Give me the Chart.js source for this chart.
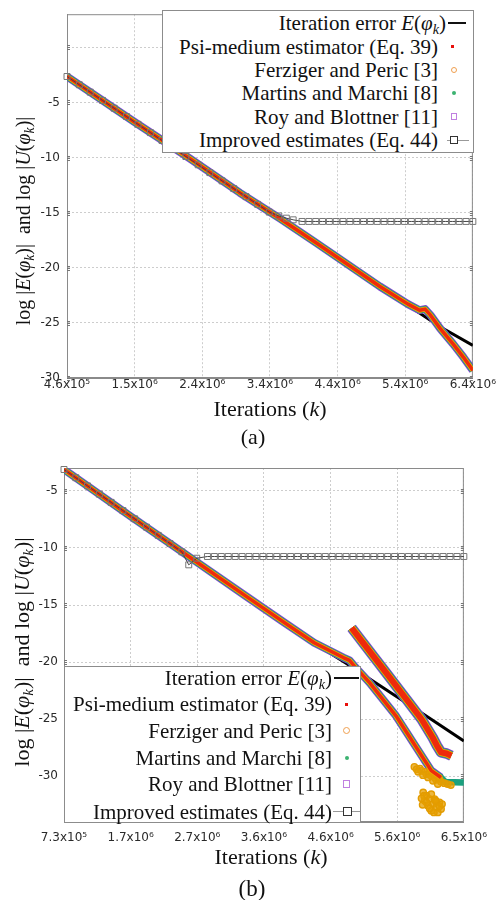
<!DOCTYPE html>
<html>
<head>
<meta charset="utf-8">
<script src="https://cdn.jsdelivr.net/npm/chart.js@4.4.0/dist/chart.umd.min.js"></script>
<style>
  body { margin: 0; background: #fff; }
  #page { position: relative; width: 496px; height: 900px; overflow: hidden;
          font-family: 'Liberation Serif', 'Times New Roman', serif; color: #111; }
  canvas { position: absolute; left: 0; }
  .c { position: absolute; white-space: nowrap; transform: translate(-50%, -50%); }
  .rot { transform: translate(-50%, -50%) rotate(-90deg); }
  .lg { position: absolute; background: #fff; border: 1px solid #8c8c8c; box-sizing: border-box; }
  .row { position: absolute; white-space: nowrap; font-size: 21px; line-height: 22px; }
  .s { position: absolute; box-sizing: border-box; }
  sub { font-size: 68%; vertical-align: -0.3em; line-height: 0; }
</style>
</head>
<body>
<div id="page">
  <canvas id="chartA" width="496" height="425" style="top:0"></canvas>
  <canvas id="chartB" width="496" height="455" style="top:445px"></canvas>

  <!-- legend (a) -->
  <div class="lg" style="left:162px;top:10px;width:312px;height:143px"></div>
  <div class="row" style="right:50px;top:12px">Iteration error <i>E</i>(<i>φ<sub>k</sub></i>)</div>
  <div class="row" style="right:58px;top:36px">Psi-medium estimator (Eq. 39)</div>
  <div class="row" style="right:58px;top:59px">Ferziger and Peric [3]</div>
  <div class="row" style="right:58px;top:82px">Martins and Marchi [8]</div>
  <div class="row" style="right:58px;top:106px">Roy and Blottner [11]</div>
  <div class="row" style="right:58px;top:129px">Improved estimates (Eq. 44)</div>
  <div class="s" style="left:448px;top:22px;width:18px;height:2px;background:#111"></div>
  <div class="s" style="left:451px;top:45px;width:3px;height:3px;background:#e8100b"></div>
  <div class="s" style="left:451px;top:67px;width:6px;height:6px;border:1px solid #f0a050;border-radius:50%"></div>
  <div class="s" style="left:452px;top:91px;width:4px;height:4px;background:#3cb371;border-radius:50%"></div>
  <div class="s" style="left:451px;top:113px;width:6px;height:7px;border:1px solid #c080e0"></div>
  <div class="s" style="left:447px;top:140px;width:22px;height:1px;background:#999"></div>
  <div class="s" style="left:450px;top:136px;width:8px;height:8px;border:1px solid #333;background:#fff"></div>

  <!-- legend (b) -->
  <div class="lg" style="left:64px;top:666px;width:297px;height:157px"></div>
  <div class="row" style="right:164px;top:667px">Iteration error <i>E</i>(<i>φ<sub>k</sub></i>)</div>
  <div class="row" style="right:164px;top:693px">Psi-medium estimator (Eq. 39)</div>
  <div class="row" style="right:164px;top:720px">Ferziger and Peric [3]</div>
  <div class="row" style="right:164px;top:747px">Martins and Marchi [8]</div>
  <div class="row" style="right:164px;top:773px">Roy and Blottner [11]</div>
  <div class="row" style="right:164px;top:801px">Improved estimates (Eq. 44)</div>
  <div class="s" style="left:334px;top:677px;width:25px;height:2px;background:#111"></div>
  <div class="s" style="left:345px;top:703px;width:3px;height:3px;background:#e8100b"></div>
  <div class="s" style="left:343px;top:727px;width:7px;height:7px;border:1px solid #f0a050;border-radius:50%"></div>
  <div class="s" style="left:345px;top:756px;width:4px;height:4px;background:#3cb371;border-radius:50%"></div>
  <div class="s" style="left:343px;top:780px;width:7px;height:8px;border:1px solid #c080e0"></div>
  <div class="s" style="left:333px;top:811px;width:27px;height:1px;background:#999"></div>
  <div class="s" style="left:343px;top:807px;width:9px;height:9px;border:1px solid #333;background:#fff"></div>

  <!-- axis titles and captions -->
  <div class="c rot" style="left:23px;top:221px;font-size:20px">log |<i>E</i>(<i>φ<sub>k</sub></i>)|&nbsp; and log |<i>U</i>(<i>φ<sub>k</sub></i>)|</div>
  <div class="c" style="left:270px;top:409px;font-size:22px">Iterations (<i>k</i>)</div>
  <div class="c" style="left:253px;top:437px;font-size:22px">(a)</div>
  <div class="c rot" style="left:22px;top:652px;font-size:22px">log |<i>E</i>(<i>φ<sub>k</sub></i>)|&nbsp; and log |<i>U</i>(<i>φ<sub>k</sub></i>)|</div>
  <div class="c" style="left:271px;top:857px;font-size:22px">Iterations (<i>k</i>)</div>
  <div class="c" style="left:252px;top:889px;font-size:23px">(b)</div>
</div>

<script>
// ---------- chart (a) ----------
const xTicksA = [460000, 1450000, 2440000, 3430000, 4420000, 5410000, 6400000];
const xLabelsA = ['4.6x10⁵', '1.5x10⁶', '2.4x10⁶', '3.4x10⁶', '4.4x10⁶', '5.4x10⁶', '6.4x10⁶'];
const yTicksA = [-30, -25, -20, -15, -10, -5, 0];
const yLabelsA = ['-30', '-25', '-20', '-15', '-10', '-5', ''];

// iteration error E
const errAx = [460000, 1440000, 2260000, 2990000, 3580000, 4110000, 5040000, 5520000, 5920000, 6400000];
const errAy = [-2.65, -6.75, -10.1, -13.2, -15.55, -17.75, -21.7, -23.7, -25.35, -27.05];
// the four estimators overlap on one band
const estAx = [460000, 1440000, 2260000, 2990000, 3580000, 4110000, 5040000, 5450000, 5620000, 5700000, 5780000, 5920000, 6110000, 6260000, 6400000];
const estAy = [-2.65, -6.75, -10.1, -13.2, -15.55, -17.75, -21.7, -23.3, -23.85, -23.75, -24.3, -25.5, -26.9, -28.1, -29.3];
// improved estimates (squares)
const impAx = [460000, 640000, 800000, 980000, 1150000, 1330000, 1500000, 1680000, 1850000, 2030000, 2200000,
  2380000, 2550000, 2730000, 2900000, 3080000, 3250000, 3420000, 3560000, 3670000, 3770000,
  3900000, 4000000, 4100000, 4200000, 4300000, 4400000, 4500000, 4600000, 4700000, 4800000, 4900000,
  5000000, 5100000, 5200000, 5300000, 5400000, 5500000, 5600000, 5700000, 5800000, 5900000,
  6000000, 6100000, 6200000, 6300000, 6400000];
const impAy = [-2.65, -3.40, -4.07, -4.82, -5.53, -6.28, -6.99, -7.74, -8.45, -9.20, -9.91,
  -10.66, -11.37, -12.12, -12.82, -13.55, -14.25, -14.95, -15.3, -15.5, -15.65,
  -15.8, -15.8, -15.8, -15.8, -15.8, -15.8, -15.8, -15.8, -15.8, -15.8, -15.8,
  -15.8, -15.8, -15.8, -15.8, -15.8, -15.8, -15.8, -15.8, -15.8, -15.8,
  -15.8, -15.8, -15.8, -15.8, -15.8];

// ---------- chart (b) ----------
const xTicksB = [730000, 1691667, 2653333, 3615000, 4576667, 5538333, 6500000];
const xLabelsB = ['7.3x10⁵', '1.7x10⁶', '2.7x10⁶', '3.6x10⁶', '4.6x10⁶', '5.6x10⁶', '6.5x10⁶'];
const yTicksB = [-30, -25, -20, -15, -10, -5];
const yLabelsB = ['-30', '-25', '-20', '-15', '-10', '-5'];

const errBx = [730000, 1700000, 2660000, 3350000, 3900000, 4340000, 4800000, 5000000, 5500000, 5990000, 6500000];
const errBy = [-3.13, -7.27, -11.3, -14.2, -16.5, -18.35, -20.1, -20.9, -22.9, -24.85, -26.9];
// common trunk then lower branch (A)
const trunkBx = [730000, 1700000, 2660000, 3350000, 3900000, 4340000, 4760000, 4850000];
const trunkBy = [-3.13, -7.27, -11.3, -14.2, -16.5, -18.3, -19.6, -19.85];
const branchAx = [4920000, 5140000, 5520000, 6030000, 6170000];
const branchAy = [-20.35, -21.8, -24.7, -29.5, -30.1];
const martTailBx = [6230000, 6500000];
const martTailBy = [-30.5, -30.55];
// upper branch (B)
const branchBx = [4880000, 5400000, 5890000, 6050000, 6110000, 6170000, 6250000, 6320000];
const branchBy = [-17.0, -21.1, -25.0, -26.6, -27.3, -27.9, -28.0, -28.2];
// scattered Ferziger and Peric points
const ferzScatBx = [5786000, 5819000, 5866000, 5889000, 5936000, 5960000, 6007000, 6030000, 6077000, 6101000,
  6148000, 6171000, 6218000, 6265000, 6312000, 6054000, 6124000, 5983000, 5840000, 5910000,
  5913000, 5960000, 5936000, 6007000, 6054000, 5983000, 6101000, 6148000, 6171000, 6030000, 6124000, 6077000,
  5926000, 5889000, 6030000, 6101000, 6007000, 6148000, 6068000, 5960000, 6185000, 5905000, 6090000];
const ferzScatBy = [-29.17, -29.37, -29.32, -29.52, -29.61, -29.81, -29.75, -29.96, -30.10, -30.30,
  -30.25, -30.48, -30.60, -30.68, -30.77, -30.39, -30.68, -30.10, -29.6, -29.9,
  -31.41, -31.70, -32.14, -31.99, -32.43, -32.57, -32.72, -32.28, -32.86, -33.01, -33.16, -31.99,
  -31.70, -31.93, -31.56, -32.22, -32.81, -32.63, -33.16, -32.28, -32.43, -32.5, -32.1];
const impBx = [730000, 900000, 1070000, 1240000, 1410000, 1580000, 1750000, 1920000, 2090000, 2260000, 2430000, 2530000, 2645000,
  2800000, 2900000, 3000000, 3100000, 3200000, 3300000, 3400000, 3500000, 3600000, 3700000,
  3800000, 3900000, 4000000, 4100000, 4200000, 4300000, 4400000, 4500000, 4600000, 4700000,
  4800000, 4900000, 5000000, 5100000, 5200000, 5300000, 5400000, 5500000, 5600000, 5700000,
  5800000, 5900000, 6000000, 6100000, 6200000, 6300000, 6400000, 6500000];
const impBy = [-3.13, -3.85, -4.57, -5.29, -6.01, -6.73, -7.45, -8.18, -8.90, -9.62, -10.34, -11.48, -10.9,
  -10.75, -10.75, -10.75, -10.75, -10.75, -10.75, -10.75, -10.75, -10.75, -10.75,
  -10.75, -10.75, -10.75, -10.75, -10.75, -10.75, -10.75, -10.75, -10.75, -10.75,
  -10.75, -10.75, -10.75, -10.75, -10.75, -10.75, -10.75, -10.75, -10.75, -10.75,
  -10.75, -10.75, -10.75, -10.75, -10.75, -10.75, -10.75, -10.75];

// colours
const cRoy = '#8a3fd0', cMart = '#1aa07e', cFerz = '#f0a800', cPsi = '#ee2a0c';

const pts = (xs, ys) => xs.map((x, i) => ({ x: x, y: ys[i] }));

const band = (label, data, color, width, order) => ({
  label, data, borderColor: color, borderWidth: width, order,
  pointRadius: 0, borderJoinStyle: 'round', clip: 0, spanGaps: false
});

// draws the closed frame and gnuplot-like tic marks
const frame = {
  id: 'frame',
  beforeDatasetsDraw(chart) {
    const { ctx, chartArea: a, scales } = chart;
    ctx.save();
    ctx.strokeStyle = '#8a8a8a';
    ctx.lineWidth = 1;
    ctx.strokeRect(a.left + 0.5, a.top + 0.5, a.right - a.left - 1, a.bottom - a.top - 1);
    ctx.strokeStyle = '#777';
    scales.y.ticks.forEach(t => {
      const y = Math.round(scales.y.getPixelForValue(t.value)) + 0.5;
      [-2, 0, 2].forEach(d => {
        ctx.beginPath();
        ctx.moveTo(a.left, y + d); ctx.lineTo(a.left + 3, y + d);
        ctx.moveTo(a.right, y + d); ctx.lineTo(a.right - 3, y + d);
        ctx.stroke();
      });
    });
    ctx.restore();
  }
};

Chart.defaults.font.family = "'DejaVu Sans', sans-serif";

function makeChart(id, datasets, ax) {
  return new Chart(document.getElementById(id), {
    type: 'line',
    data: { datasets },
    options: {
      responsive: false,
      animation: false,
      devicePixelRatio: 1,
      layout: { padding: { top: ax.top, right: ax.right, left: 0, bottom: 0 } },
      plugins: { legend: { display: false }, tooltip: { enabled: false } },
      elements: { line: { tension: 0 } },
      scales: {
        x: {
          type: 'linear', min: ax.xmin, max: ax.xmax,
          afterBuildTicks: s => { s.ticks = ax.xTicks.map(v => ({ value: v })); },
          afterFit: s => { s.height = ax.xh; },
          ticks: { callback: (v, i) => ax.xLabels[i], padding: ax.xpad, maxRotation: 0, autoSkip: false,
                   color: '#2a2a2a', font: { size: 12 } },
          grid: { color: '#cdcdcd', drawTicks: false },
          border: { color: '#8a8a8a', dash: [2, 2] }
        },
        y: {
          type: 'linear', min: ax.ymin, max: ax.ymax,
          afterBuildTicks: s => { s.ticks = ax.yTicks.map(v => ({ value: v })); },
          afterFit: s => { s.width = ax.yw; },
          ticks: { callback: (v, i) => ax.yLabels[i], padding: ax.ypad, autoSkip: false,
                   color: '#2a2a2a', font: { size: 12 } },
          grid: { color: '#cdcdcd', drawTicks: false },
          border: { color: '#8a8a8a', dash: [2, 2] }
        }
      }
    },
    plugins: [frame]
  });
}

const improvedStyle = {
  borderColor: '#444', borderWidth: 1, pointStyle: 'rect', pointRadius: 4.2,
  pointBorderColor: '#777', pointBorderWidth: 1, pointBackgroundColor: 'rgba(0,0,0,0)', clip: 5
};

makeChart('chartA', [
  Object.assign({ label: 'Improved estimates (Eq. 44)', data: pts(impAx, impAy), order: 0 }, improvedStyle),
  band('Psi-medium estimator (Eq. 39)', pts(estAx, estAy), cPsi, 3.5, 1),
  band('Ferziger and Peric [3]', pts(estAx, estAy), cFerz, 5, 2),
  band('Martins and Marchi [8]', pts(estAx, estAy), cMart, 6.5, 3),
  band('Roy and Blottner [11]', pts(estAx, estAy), cRoy, 8, 4),
  band('Iteration error E', pts(errAx, errAy), '#000', 3, 5)
], { top: 10, right: 23, xmin: 460000, xmax: 6400000, ymin: -30, ymax: 3, xTicks: xTicksA, xLabels: xLabelsA,
     yTicks: yTicksA, yLabels: yLabelsA, xh: 47, yw: 67, xpad: 0, ypad: 7 });

const lowerB = pts(trunkBx.concat(branchAx), trunkBy.concat(branchAy));
const lowerMartB = pts(trunkBx.concat(branchAx, martTailBx), trunkBy.concat(branchAy, martTailBy));
const upperB = pts(branchBx, branchBy);

makeChart('chartB', [
  Object.assign({ label: 'Improved estimates (Eq. 44)', data: pts(impBx, impBy), order: 0 }, improvedStyle),
  band('Psi-medium estimator (Eq. 39)', upperB, cPsi, 6, 1),
  band('Ferziger and Peric [3]', upperB, cFerz, 7.5, 2),
  band('Martins and Marchi [8]', upperB, cMart, 9, 3),
  band('Roy and Blottner [11]', upperB, cRoy, 10.5, 4),
  band('Psi-medium estimator (Eq. 39)', lowerB, cPsi, 3.5, 5),
  band('Ferziger and Peric [3]', lowerB, cFerz, 5, 6),
  {
    label: 'Ferziger and Peric [3]', data: pts(ferzScatBx, ferzScatBy), showLine: false, order: 7,
    pointStyle: 'circle', pointRadius: 3.2, pointBorderWidth: 1.4, pointBorderColor: '#e39c00',
    pointBackgroundColor: 'rgba(230,159,0,0.75)'
  },
  band('Martins and Marchi [8]', lowerMartB, cMart, 6.5, 8),
  band('Roy and Blottner [11]', lowerB, cRoy, 8, 9),
  band('Iteration error E', pts(errBx, errBy), '#000', 3, 10)
], { top: 23, right: 23, xmin: 730000, xmax: 6500000, ymin: -34, ymax: -3, xTicks: xTicksB, xLabels: xLabelsB,
     yTicks: yTicksB, yLabels: yLabelsB, xh: 78, yw: 64, xpad: 9, ypad: 6 });
</script>
</body>
</html>
